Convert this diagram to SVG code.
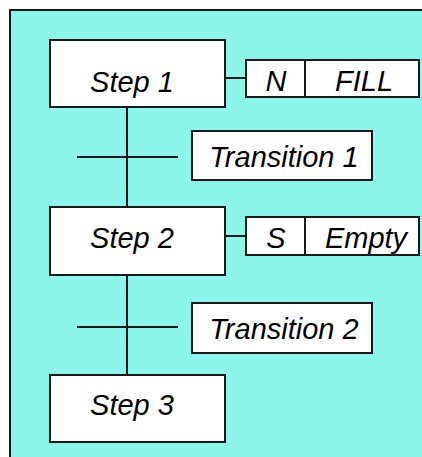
<svg xmlns="http://www.w3.org/2000/svg" width="422" height="457" viewBox="0 0 422 457">
<style>
.box{fill:#fff;stroke:#1a1a1a;stroke-width:2}
.ln{stroke:#1a1a1a;stroke-width:2;fill:none}
text{font-family:"Liberation Sans",Arial,sans-serif;font-style:italic;font-size:29px;fill:#000;text-anchor:middle}
</style>
<rect x="10" y="10" width="420" height="460" fill="#8ef5eb" stroke="#1a1a1a" stroke-width="2"/>
<g id="connectors">
<line class="ln" x1="127" y1="107" x2="127" y2="207"/>
<line class="ln" x1="127" y1="275" x2="127" y2="375"/>
<line class="ln" x1="77" y1="157" x2="178" y2="157"/>
<line class="ln" x1="77" y1="327" x2="178" y2="327"/>
<line class="ln" x1="225" y1="78" x2="246" y2="78"/>
<line class="ln" x1="225" y1="236" x2="246" y2="236"/>
</g>
<g id="step1"><rect class="box" x="50" y="40" width="175" height="67"/><text x="132" y="92">Step 1</text></g>
<g id="action1"><rect class="box" x="246" y="60" width="173" height="37"/><line class="ln" x1="305" y1="60" x2="305" y2="97"/><text x="276" y="91">N</text><text x="364" y="91">FILL</text></g>
<g id="transition1"><rect class="box" x="192" y="131" width="180" height="49"/><text x="284" y="167">Transition 1</text></g>
<g id="step2"><rect class="box" x="50" y="207" width="175" height="68"/><text x="132" y="248">Step 2</text></g>
<g id="action2"><rect class="box" x="246" y="217" width="173" height="38"/><line class="ln" x1="305" y1="217" x2="305" y2="255"/><text x="276" y="248">S</text><text x="366" y="248">Empty</text></g>
<g id="transition2"><rect class="box" x="192" y="303" width="180" height="50"/><text x="284" y="339">Transition 2</text></g>
<g id="step3"><rect class="box" x="50" y="375" width="175" height="67"/><text x="132" y="415">Step 3</text></g>
</svg>
